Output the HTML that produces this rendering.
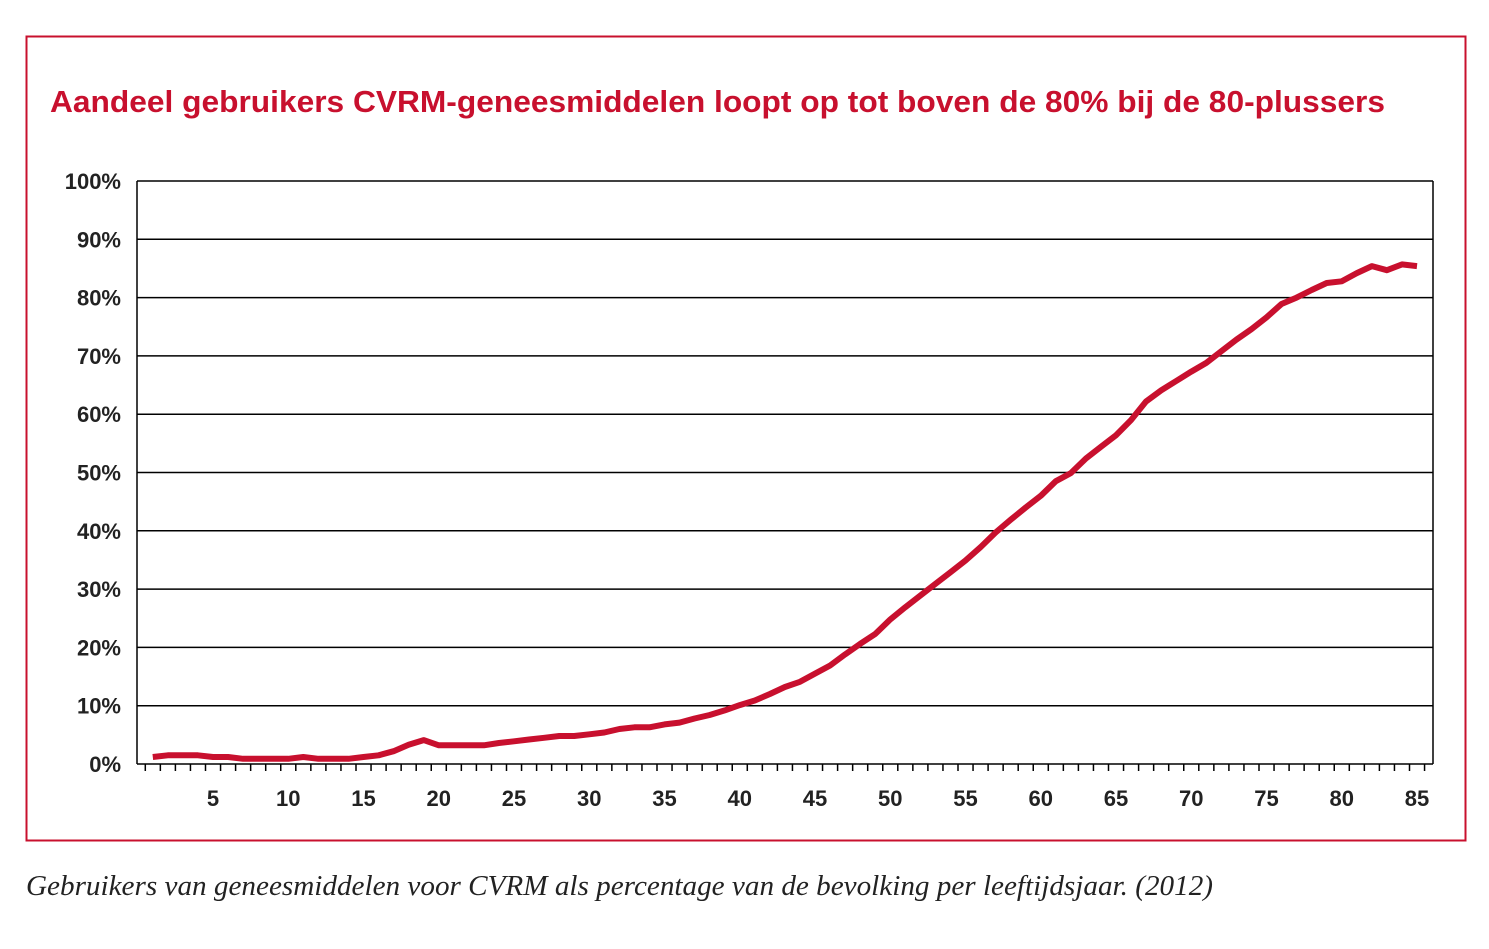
<!DOCTYPE html>
<html><head><meta charset="utf-8"><style>
body{margin:0;background:#fff;width:1489px;height:944px;overflow:hidden}
</style></head><body>
<svg width="1489" height="944" xmlns="http://www.w3.org/2000/svg" font-family="Liberation Sans, sans-serif">
<rect x="26.5" y="36.5" width="1439" height="804" fill="none" stroke="#c8102e" stroke-width="2"/>
<text x="50" y="112" font-size="31" font-weight="bold" fill="#c8102e" textLength="1335" lengthAdjust="spacingAndGlyphs">Aandeel gebruikers CVRM-geneesmiddelen loopt op tot boven de 80% bij de 80-plussers</text>
<g id="grid" stroke="#000" stroke-width="1.5"></g>
<g id="yl" font-size="22" font-weight="bold" fill="#222" text-anchor="end"></g>
<g id="xl" font-size="22" font-weight="bold" fill="#222" text-anchor="middle"></g>
<polyline id="ln" fill="none" stroke="#c8102e" stroke-width="6" stroke-linejoin="round"/>
<text x="26" y="895" font-family="Liberation Serif, serif" font-style="italic" font-size="28" fill="#222" textLength="1187" lengthAdjust="spacingAndGlyphs">Gebruikers van geneesmiddelen voor CVRM als percentage van de bevolking per leeftijdsjaar. (2012)</text>
</svg>
<script>
var ns="http://www.w3.org/2000/svg";
function el(t,a,p,txt){var e=document.createElementNS(ns,t);for(var k in a)e.setAttribute(k,a[k]);if(txt)e.textContent=txt;document.getElementById(p).appendChild(e);}
var y0=764,ys=58.3,x0=137,x1=1433;
for(var i=0;i<=10;i++){var y=y0-i*ys;el('line',{x1:x0,x2:x1,y1:y,y2:y},'grid');el('text',{x:121,y:y+8},'yl',(i*10)+'%');}
el('line',{x1:x0,x2:x0,y1:y0-10*ys,y2:y0},'grid');el('line',{x1:x1,x2:x1,y1:y0-10*ys,y2:y0},'grid');
function ax(a){return 213+(a-5)*15.05;}
for(var a=1;a<=86;a++){var x=ax(a)-7.5;el('line',{x1:x,x2:x,y1:y0,y2:y0+7},'grid');}
for(var a=5;a<=85;a+=5)el('text',{x:ax(a),y:806},'xl',a);
var d=[1.2,1.5,1.5,1.5,1.2,1.2,0.9,0.9,0.9,0.9,1.2,0.9,0.9,0.9,1.2,1.5,2.2,3.3,4.1,3.2,3.2,3.2,3.2,3.6,3.9,4.2,4.5,4.8,4.8,5.1,5.4,6,6.3,6.3,6.8,7.1,7.8,8.4,9.2,10.1,10.9,12,13.2,14.1,15.5,16.9,18.8,20.6,22.3,24.8,26.9,28.9,30.9,32.9,34.9,37.2,39.7,41.9,44,46,48.5,49.9,52.4,54.4,56.4,59,62.2,64.1,65.7,67.3,68.8,70.8,72.8,74.6,76.6,78.9,80,81.3,82.5,82.8,84.2,85.4,84.7,85.7,85.4];
document.getElementById('ln').setAttribute('points',d.map(function(v,i){return ax(i+1).toFixed(1)+','+(y0-v*ys/10).toFixed(1)}).join(' '));
</script>
</body></html>
